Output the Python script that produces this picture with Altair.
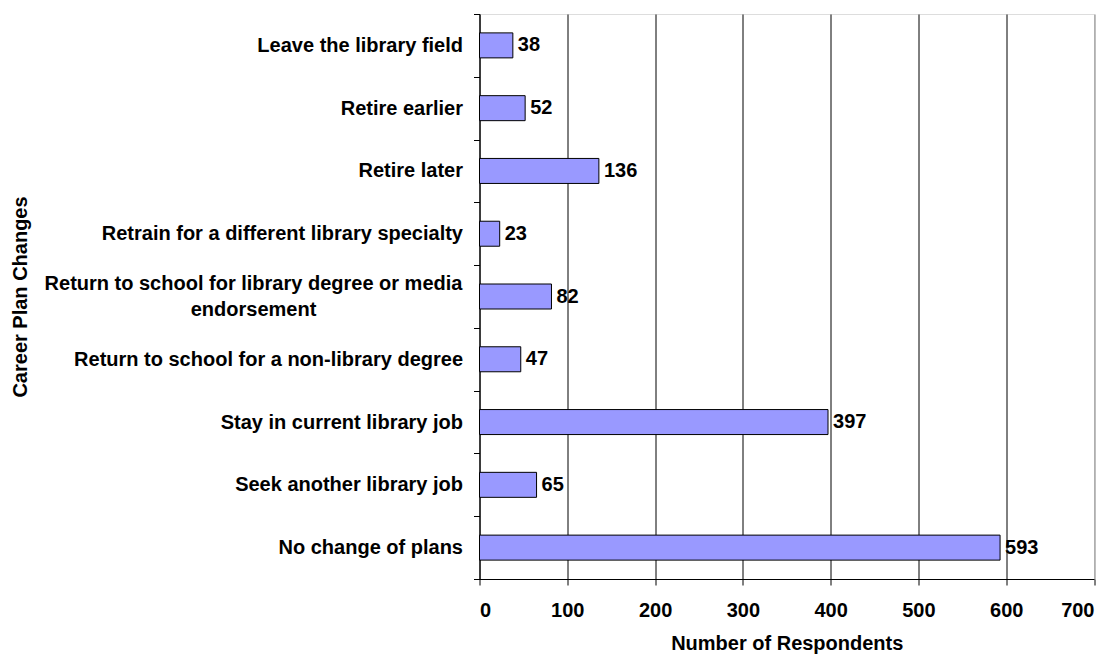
import altair as alt
import pandas as pd

categories = [
    "Leave the library field",
    "Retire earlier",
    "Retire later",
    "Retrain for a different library specialty",
    "Return to school for library degree or media endorsement",
    "Return to school for a non-library degree",
    "Stay in current library job",
    "Seek another library job",
    "No change of plans",
]
values = [38, 52, 136, 23, 82, 47, 397, 65, 593]
long_label = "Return to school for library degree or media endorsement"
long_label_display = "Return to school for library degree or media|endorsement"
x_ticks = [0, 100, 200, 300, 400, 500, 600, 700]

df = pd.DataFrame({"category": categories, "value": values})
df_long = pd.DataFrame({"category": [long_label], "display": [long_label_display]})

FONT = "Liberation Sans"
FS = 20

y_enc = alt.Y(
    "category:N",
    sort=categories,
    scale=alt.Scale(paddingInner=0, paddingOuter=0),
    axis=alt.Axis(
        title="Career Plan Changes",
        titleFont=FONT, titleFontSize=20, titleFontWeight="bold", titleColor="black",
        titleAngle=270, titleBaseline="bottom", titleAlign="center",
        titleX=-449, titleY=282.5,
        labelFont=FONT, labelFontSize=FS, labelFontWeight="bold", labelColor="black",
        labelPadding=11, labelLimit=800,
        labelExpr=f"datum.value == '{long_label}' ? '' : datum.value",
        tickBand="extent", tickColor="black", tickSize=6,
        domainColor="black", grid=False,
    ),
)

x_enc = alt.X(
    "value:Q",
    scale=alt.Scale(domain=[0, 700], nice=False),
    axis=alt.Axis(
        title="Number of Respondents",
        titleFont=FONT, titleFontSize=FS, titleFontWeight="bold", titleColor="black",
        titleBaseline="top", titleY=54,
        labelFont=FONT, labelFontSize=FS, labelFontWeight="bold", labelColor="black",
        labelPadding=15, values=x_ticks,
        tickColor="black", tickSize=6, domainColor="black",
        grid=True, gridWidth=1,
        gridColor={"condition": {"test": "datum.value == 700", "value": "#808080"}, "value": "black"},
    ),
)

bars = alt.Chart(df).mark_bar(size=25, color="#9999FF", stroke="black", strokeWidth=1).encode(
    x=x_enc, y=y_enc
)

texts = alt.Chart(df).mark_text(
    align="left", baseline="middle", dx=5, font=FONT, fontSize=FS, fontWeight="bold", color="black"
).encode(x="value:Q", y=alt.Y("category:N", sort=categories), text="value:Q")

long_text = alt.Chart(df_long).mark_text(
    align="center", baseline="middle", lineBreak="|", lineHeight=26, dy=-13,
    font=FONT, fontSize=FS, fontWeight="bold", color="black",
).encode(
    x=alt.value(-226), y=alt.Y("category:N", sort=categories), text="display:N"
)

chart = (
    alt.layer(bars, texts, long_text)
    .properties(
        width=614.5, height=565,
        autosize=alt.AutoSizeParams(type="none"),
        padding={"left": 471.5, "top": 6, "right": 12, "bottom": 76},
    )
    .configure_view(stroke="#808080", strokeWidth=1)
    .configure(background="white")
)

chart.save("out.html", embed_options={"renderer": "svg", "actions": False})
